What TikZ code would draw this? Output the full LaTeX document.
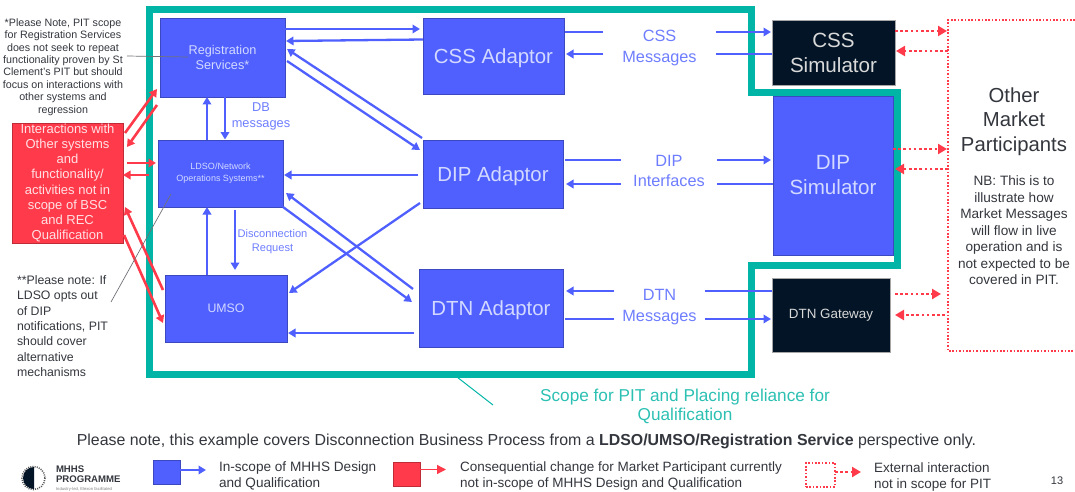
\documentclass[tikz,border=0pt]{standalone}
\usepackage{fontspec}
\setmainfont{Liberation Sans}
\usetikzlibrary{arrows.meta}
\definecolor{mhblue}{HTML}{4F60FF}
\definecolor{mhred}{HTML}{FF3A4A}
\definecolor{mhteal}{HTML}{00B5A6}
\definecolor{mhnavy}{HTML}{021425}
\definecolor{mhlabel}{HTML}{6E7DFF}
\definecolor{mhtext}{HTML}{33363D}
\definecolor{mhboxtext}{HTML}{D3D9FF}
\definecolor{mhscope}{HTML}{2CC0B3}
\newcommand{\fs}[2]{\fontsize{#1}{#2}\selectfont}
\tikzset{
  x=1pt,y=-1pt,
  boxbase/.style={inner sep=0pt,outer sep=0pt,align=center},
  bluebox/.style={boxbase,fill=mhblue,draw=mhblue!75!black,line width=0.5pt,text=mhboxtext},
  navybox/.style={boxbase,fill=mhnavy,draw=gray!70,line width=0.5pt,text=white!85!black},
  redbox/.style={boxbase,fill=mhred,draw=mhred!75!black,line width=0.5pt,text=white!85!mhred},
  flowlabel/.style={boxbase,text=mhlabel},
  notetext/.style={inner sep=0pt,outer sep=0pt,text=mhtext},
  bluearrow/.style={draw=mhblue,line width=2.3pt,-{Triangle[length=7.5pt,width=8.5pt]}},
  blueline/.style={draw=mhblue,line width=2.3pt},
  redarrow/.style={draw=mhred,line width=2.6pt,-{Triangle[length=7.5pt,width=8.5pt]}},
  extarrow/.style={draw=mhred,line width=2.4pt,dash pattern=on 2.6pt off 2.6pt,-{Triangle[length=9pt,width=10pt]}},
  extborder/.style={draw=mhred,line width=1.8pt,dash pattern=on 1.6pt off 1.8pt},
  callout/.style={draw=mhtext!70,line width=0.7pt},
}
\begin{document}
\begin{tikzpicture}
\useasboundingbox (0,0) rectangle (1075,492);
% scope outline
\draw[mhteal,line width=7pt,miter limit=10] (149,9.5) -- (751,9.5) -- (751,93) -- (897,93) -- (897,265) -- (751,265) -- (751,374) -- (149,374) -- cycle;
\coordinate (tealpt) at (457,377);

% nodes
\node[bluebox,minimum width=125,minimum height=79,font=\fs{12.7}{15}] (reg) at (222.5,57.5) {Registration\\Services*};
\node[bluebox,minimum width=125,minimum height=67,font=\fs{9}{12}] (ldso) at (220.5,173.5) {LDSO/Network\\Operations Systems**};
\node[bluebox,minimum width=122,minimum height=67,font=\fs{12.3}{14}] (umso) at (226,308.5) {UMSO};
\node[redbox,minimum width=111,minimum height=120,font=\fs{13}{15.1}] (redsys) at (67.5,183) {Interactions with\\Other systems\\and\\functionality/\\activities not in\\scope of BSC\\and REC\\Qualification};
\node[bluebox,minimum width=141,minimum height=76,font=\fs{20.4}{24}] (css) at (493.5,56) {\raisebox{-7.3pt}[0pt][0pt]{CSS Adaptor}};
\node[bluebox,minimum width=140,minimum height=68,font=\fs{20.4}{24}] (dip) at (493,174) {\raisebox{-7.3pt}[0pt][0pt]{DIP Adaptor}};
\node[bluebox,minimum width=144,minimum height=78,font=\fs{20.4}{24}] (dtn) at (491,308) {\raisebox{-7.3pt}[0pt][0pt]{DTN Adaptor}};
\node[navybox,minimum width=123,minimum height=65,font=\fs{20.6}{25}] (csssim) at (833.5,52.5) {CSS\\Simulator};
\node[bluebox,minimum width=120,minimum height=159,font=\fs{20.6}{25}] (dipsim) at (833,175.5) {DIP\\Simulator};
\node[navybox,minimum width=118,minimum height=74,font=\fs{13.4}{15}] (dtngw) at (831,315) {DTN Gateway};
\node[boxbase,minimum width=127,minimum height=331] (other) at (1011.5,185.5) {};
\node[boxbase,text=mhtext,font=\fs{20.3}{24.6}] (othertitle) at (1014,121.5) {Other\\Market\\Participants};
\node[boxbase,text=mhtext,font=\fs{13.6}{16.5}] (othernote) at (1014,230.5) {NB: This is to\\illustrate how\\Market Messages\\will flow in live\\operation and is\\not expected to be\\covered in PIT.};
\node[flowlabel,font=\fs{16.3}{21}] (cssmsg) at (659.5,48) {CSS\\Messages};
\node[flowlabel,font=\fs{16.3}{20}] (dipif) at (669,170.5) {DIP\\Interfaces};
\node[flowlabel,font=\fs{16.3}{20.5}] (dtnmsg) at (659.5,307) {DTN\\Messages};
\node[flowlabel,font=\fs{12.8}{16.5}] (dblabel) at (261,116.5) {DB\\messages};
\node[flowlabel,font=\fs{11.1}{13.5}] (disc) at (272.5,241.5) {Disconnection\\Request};
\node[boxbase,text=mhtext,font=\fs{10.7}{12.4}] (note1) at (63,67) {*Please Note, PIT scope\\for Registration Services\\does not seek to repeat\\functionality proven by St\\Clement's PIT but should\\focus on interactions with\\other systems and\\regression};
\node[notetext,align=left,font=\fs{12.3}{15.35}] (note2) at (62.5,326) {**Please note: If\\LDSO opts out\\of DIP\\notifications, PIT\\should cover\\alternative\\mechanisms};
\node[boxbase,text=mhscope,font=\fs{17.2}{19.5}] (scope) at (685,406.5) {Scope for PIT and Placing reliance for\\Qualification};
\node[boxbase,text=mhtext,font=\fs{15.9}{17}] (banner) at (526.5,441) {Please note, this example covers Disconnection Business Process from a \textbf{LDSO/UMSO/Registration Service} perspective only.};

% legend
\node[bluebox,minimum width=27,minimum height=24] (legblue) at (166.5,472) {};
\node[redbox,minimum width=27,minimum height=24] (legred) at (406.5,474) {};
\node[boxbase,minimum width=29,minimum height=24,extborder,draw=mhred] (legext) at (820.5,475) {};
\coordinate (legblueend) at (206,470);
\coordinate (legredend) at (446,469.5);
\coordinate (legextend) at (861,472);
\node[notetext,anchor=west,align=left,font=\fs{13.6}{16}] (legbluetxt) at (219,475.5) {In-scope of MHHS Design\\and Qualification};
\node[notetext,anchor=west,align=left,font=\fs{13.5}{16}] (legredtxt) at (460,476.5) {Consequential change for Market Participant currently\\not in-scope of MHHS Design and Qualification};
\node[notetext,anchor=west,align=left,font=\fs{13.5}{16}] (legexttxt) at (874,477.5) {External interaction\\not in scope for PIT};
\node[notetext,font=\fs{11}{13}] (pagenum) at (1057,481) {13};

% logo
\draw[gray!70!black,line width=1.6pt,dash pattern=on 1pt off 1.2pt] (33.5,478) circle[radius=11.5];
\fill[mhnavy] (34,489) arc[start angle=90,end angle=270,radius=11] -- cycle;
\node[notetext,anchor=west,align=left,font=\fs{9.6}{9.6}\bfseries] (logotext) at (56,474) {MHHS\\PROGRAMME};
\node[notetext,anchor=west,font=\fs{4.2}{5},text=gray] (logotag) at (56,489) {Industry-led, Elexon facilitated};

% other participants border
\draw[extborder] (other.north east) -- (other.north west) -- (other.south west) -- (other.south east);

% internal connectors
\draw[bluearrow] ([shift={(62.5,-28.5)}]reg.center) -- ([shift={(-73.5,-27)}]css.center);
\draw[bluearrow] ([shift={(-70.5,-16.5)}]css.center) -- ([shift={(63.5,-16.5)}]reg.center);
\draw[bluearrow] ([shift={(-71,-36)}]dip.center) -- ([shift={(64.5,-8.5)}]reg.center);
\draw[bluearrow] ([shift={(64.5,3.5)}]reg.center) -- ([shift={(-73,-24)}]dip.center);
\draw[bluearrow] ([shift={(-75,1)}]dip.center) -- ([shift={(63.5,1.5)}]ldso.center);
\draw[bluearrow] ([shift={(-78,-19)}]dtn.center) -- ([shift={(65.5,19.5)}]ldso.center);
\draw[bluearrow] ([shift={(62.5,33.5)}]ldso.center) -- ([shift={(-79,-6)}]dtn.center);
\draw[bluearrow] ([shift={(-73,29)}]dip.center) -- ([shift={(63,-15.5)}]umso.center);
\draw[bluearrow] ([shift={(-77,25)}]dtn.center) -- ([shift={(62,24.5)}]umso.center);
\draw[bluearrow] ([shift={(-13.5,-34)}]ldso.center) -- ([shift={(-15.5,39.5)}]reg.center);
\draw[bluearrow] ([shift={(2.5,39.5)}]reg.center) -- ([shift={(4.5,-34)}]ldso.center);
\draw[bluearrow] ([shift={(-19,-33.5)}]umso.center) -- ([shift={(-13.5,33.5)}]ldso.center);
\draw[bluearrow] ([shift={(14.5,36.5)}]ldso.center) -- ([shift={(9,-38.5)}]umso.center);

% message connectors
\draw[blueline] ([shift={(71.5,-24)}]css.center) -- ([shift={(-56.5,-16)}]cssmsg.center);
\draw[bluearrow] ([shift={(56.5,-16)}]cssmsg.center) -- ([shift={(-62.5,-20.5)}]csssim.center);
\draw[bluearrow] ([shift={(-56.5,6)}]cssmsg.center) -- ([shift={(72.5,-2)}]css.center);
\draw[blueline] ([shift={(-61.5,1.5)}]csssim.center) -- ([shift={(56.5,6)}]cssmsg.center);
\draw[blueline] ([shift={(72,-14)}]dip.center) -- ([shift={(-48,-10.5)}]dipif.center);
\draw[bluearrow] ([shift={(48,-10.5)}]dipif.center) -- ([shift={(-62,-15.5)}]dipsim.center);
\draw[bluearrow] ([shift={(-48,13.5)}]dipif.center) -- ([shift={(73,10)}]dip.center);
\draw[blueline] ([shift={(-60,8.5)}]dipsim.center) -- ([shift={(48,13.5)}]dipif.center);
\draw[bluearrow] ([shift={(-45.5,-16)}]dtnmsg.center) -- ([shift={(75,-17)}]dtn.center);
\draw[blueline] ([shift={(-59,-24)}]dtngw.center) -- ([shift={(45.5,-16)}]dtnmsg.center);
\draw[blueline] ([shift={(74,11)}]dtn.center) -- ([shift={(-45.5,12)}]dtnmsg.center);
\draw[bluearrow] ([shift={(45.5,12)}]dtnmsg.center) -- ([shift={(-60,4)}]dtngw.center);

% red connectors
\draw[redarrow] ([shift={(57.5,-50)}]redsys.center) -- ([shift={(-65.5,31.5)}]reg.center);
\draw[redarrow] ([shift={(-65.5,47.5)}]reg.center) -- ([shift={(59.5,-36)}]redsys.center);
\draw[redarrow] ([shift={(59.5,-20)}]redsys.center) -- ([shift={(-64.5,-10.5)}]ldso.center);
\draw[redarrow] ([shift={(-71.5,1.5)}]ldso.center) -- ([shift={(55.5,-8)}]redsys.center);
\draw[redarrow] ([shift={(-63,-18.5)}]umso.center) -- ([shift={(57.5,24)}]redsys.center);
\draw[redarrow] ([shift={(56.5,52)}]redsys.center) -- ([shift={(-63,14.5)}]umso.center);

% external dotted connectors
\draw[extarrow] ([shift={(61.5,-21.5)}]csssim.center) -- ([shift={(-64.5,-154.5)}]other.center);
\draw[extarrow] ([shift={(-63.5,-134.5)}]other.center) -- ([shift={(62.5,-1.5)}]csssim.center);
\draw[extarrow] ([shift={(60,-26.5)}]dipsim.center) -- ([shift={(-64.5,-36.5)}]other.center);
\draw[extarrow] ([shift={(-63.5,-16.5)}]other.center) -- ([shift={(62,-6.5)}]dipsim.center);
\draw[extarrow] ([shift={(64,-21)}]dtngw.center) -- ([shift={(-70.5,108.5)}]other.center);
\draw[extarrow] ([shift={(-66.5,129.5)}]other.center) -- ([shift={(64,0)}]dtngw.center);

% callouts
\draw[callout] ([shift={(64,-11)}]note1.center) -- ([shift={(-34.5,-0.5)}]reg.center);
\draw[callout] ([shift={(48.5,-24)}]note2.center) -- ([shift={(-49.5,20.5)}]ldso.center);
\draw[mhteal,line width=1pt] (tealpt) -- ([shift={(-192,-1.5)}]scope.center);

% legend connectors
\draw[bluearrow] (legblue.east |- legblueend) -- (legblueend);
\draw[draw=mhred,line width=1.2pt,-{Triangle[length=9pt,width=9pt]}] (legred.east |- legredend) -- (legredend);
\draw[extarrow] (legext.east |- legextend) -- (legextend);
\end{tikzpicture}
\end{document}
